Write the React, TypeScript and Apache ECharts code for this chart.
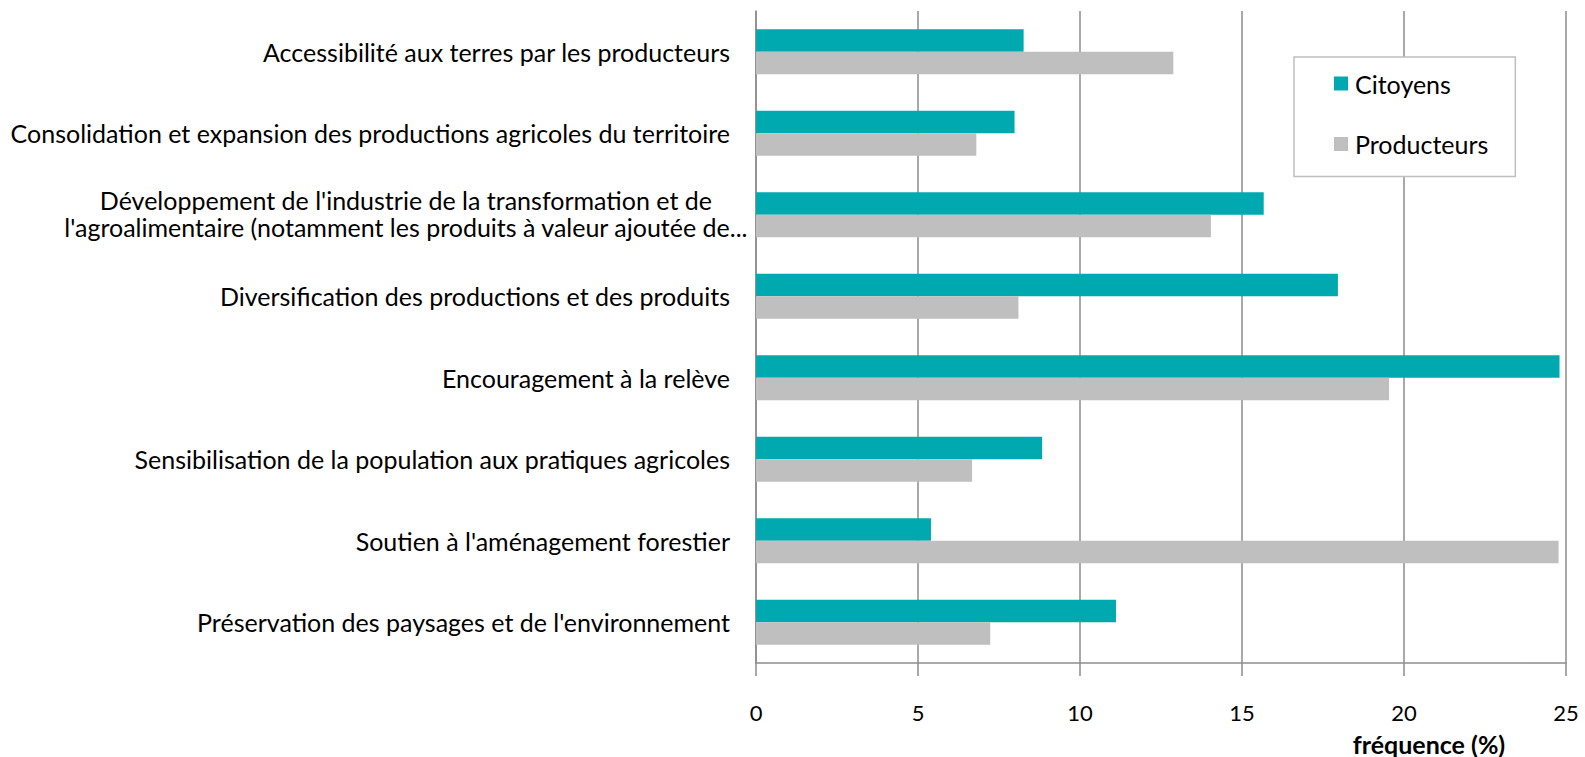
import React, { useEffect, useRef } from "react";
import * as echarts from "echarts";

const categories: string[] = [
  "Accessibilité aux terres par les producteurs",
  "Consolidation et expansion des productions agricoles du territoire",
  "Développement de l'industrie de la transformation et de\nl'agroalimentaire (notamment les produits à valeur ajoutée de...",
  "Diversification des productions et des produits",
  "Encouragement à la relève",
  "Sensibilisation de la population aux pratiques agricoles",
  "Soutien à l'aménagement forestier",
  "Préservation des paysages et de l'environnement",
];

const citoyens: number[] = [8.26, 7.98, 15.67, 17.96, 24.8, 8.83, 5.4, 11.11];
const producteurs: number[] = [12.88, 6.8, 14.04, 8.1, 19.54, 6.67, 24.77, 7.23];

const xTicks: number[] = [0, 5, 10, 15, 20, 25];
const xAxisName = "fréquence (%)";

const FONT = "Lato";

export default function App() {
  const ref = useRef<HTMLDivElement>(null);
  useEffect(() => {
    document.body.style.margin = "0";
    if (!ref.current) return;
    const chart = echarts.init(ref.current, undefined, { renderer: "svg" });
    chart.setOption({
      animation: false,
      textStyle: { fontFamily: FONT },
      grid: {
        left: 756,
        right: 19,
        top: 11,
        bottom: 94,
        containLabel: false,
        outerBoundsMode: "none",
      },
      legend: {
        orient: "vertical",
        left: 1294,
        top: 57,
        padding: [14, 27, 20, 40],
        itemWidth: 14,
        itemHeight: 14,
        itemGap: 35.5,
        icon: "rect",
        borderColor: "#bfbfbf",
        borderWidth: 1.5,
        borderRadius: 0,
        backgroundColor: "#ffffff",
        textStyle: {
          fontSize: 25,
          color: "#000",
          fontFamily: FONT,
          lineHeight: 25,
          padding: [0, 0, 0, 2],
        },
        data: ["Citoyens", "Producteurs"],
      },
      xAxis: {
        type: "value",
        min: xTicks[0],
        max: xTicks[xTicks.length - 1],
        interval: 5,
        name: xAxisName,
        nameLocation: "middle",
        nameGap: 68,
        nameTextStyle: {
          fontSize: 25,
          fontWeight: "bold",
          color: "#000",
          fontFamily: FONT,
          padding: [0, 0, 0, 536],
        },
        axisLine: { show: true, lineStyle: { color: "#8c8c8c", width: 1.5 } },
        axisTick: { show: true, length: 13, lineStyle: { color: "#8c8c8c", width: 1.5 } },
        splitLine: { show: true, lineStyle: { color: "#8c8c8c", width: 1.5 } },
        axisLabel: { margin: 38, fontSize: 22, color: "#000", fontFamily: FONT },
      },
      yAxis: {
        type: "category",
        inverse: true,
        data: categories,
        axisLine: { show: true, lineStyle: { color: "#8c8c8c", width: 1.5 } },
        axisTick: { show: false },
        splitLine: { show: false },
        axisLabel: {
          margin: 8,
          fontSize: 25,
          color: "#000",
          fontFamily: FONT,
          formatter: (v: string) =>
            v.includes("\n")
              ? v
                  .split("\n")
                  .map((l, i) => (i === 0 ? `{c|${l}}` : `{d|${l}}`))
                  .join("\n")
              : `{r|${v}}`,
          rich: {
            r: { padding: [0, 18, 0, 0], fontSize: 25, color: "#000", fontFamily: FONT },
            c: { align: "center", lineHeight: 30, fontSize: 25, color: "#000", fontFamily: FONT },
            d: {
              align: "center",
              lineHeight: 30,
              padding: [0, 0, 6, 0],
              fontSize: 25,
              color: "#000",
              fontFamily: FONT,
            },
          },
        },
      },
      series: [
        {
          name: "Citoyens",
          type: "bar",
          data: citoyens,
          barGap: "0%",
          barCategoryGap: "45%",
          itemStyle: { color: "#00a8b0" },
        },
        {
          name: "Producteurs",
          type: "bar",
          data: producteurs,
          barGap: "0%",
          barCategoryGap: "45%",
          itemStyle: { color: "#bfbfbf" },
        },
      ],
    });
    return () => chart.dispose();
  }, []);
  return <div ref={ref} style={{ width: 1585, height: 757 }} />;
}
